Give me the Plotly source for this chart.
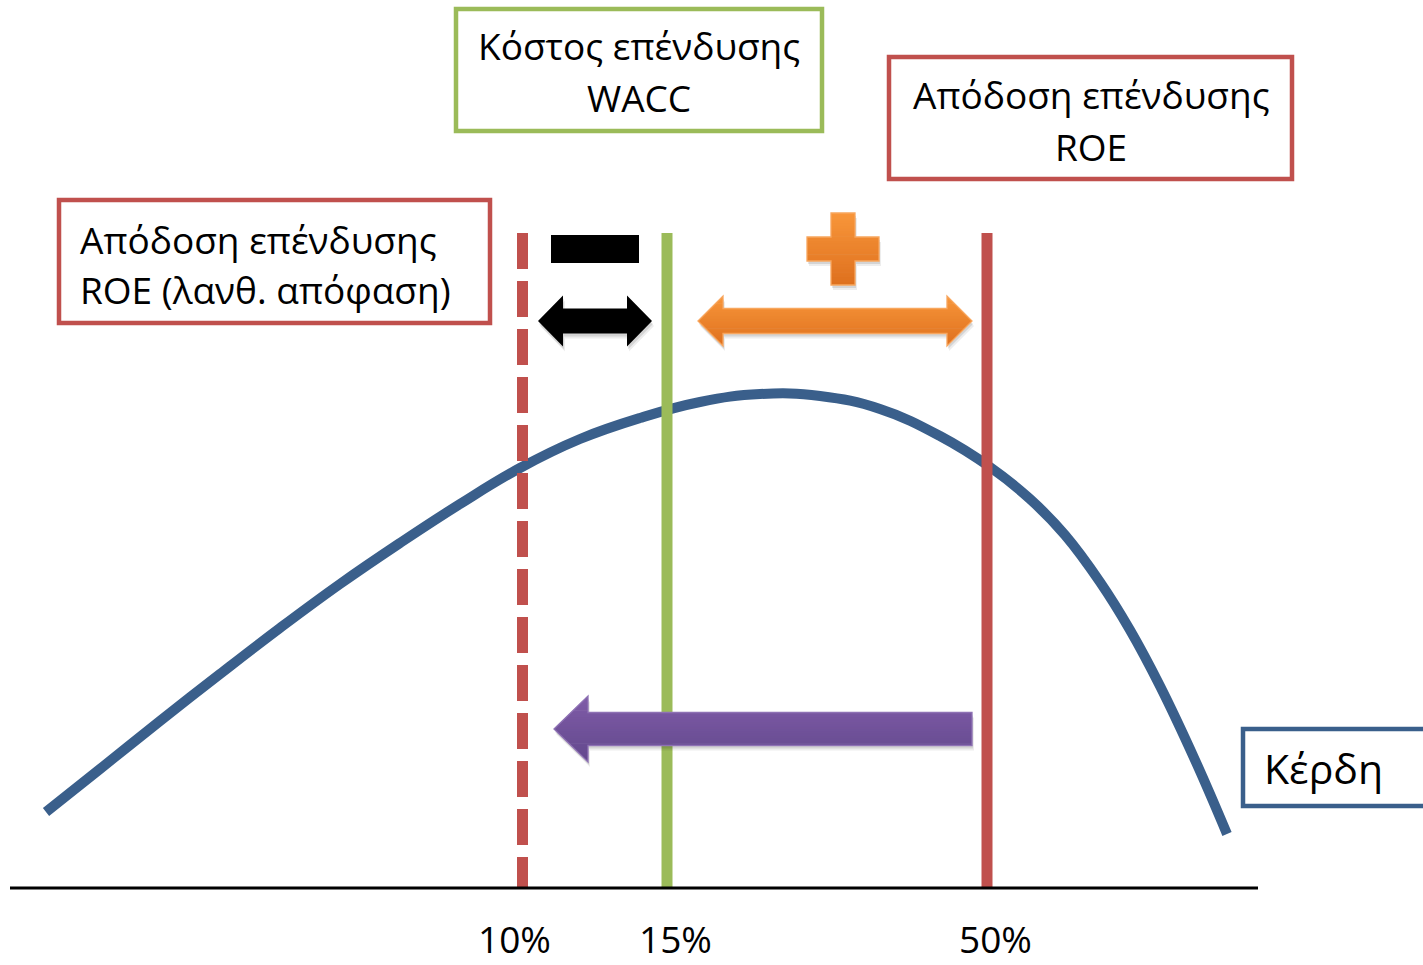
import plotly.graph_objects as go

# ---- data -------------------------------------------------------------
# Profit curve: position along the return scale, height above the baseline
curve_x = [46, 100, 160, 220, 280, 340, 400, 460, 520, 580, 640, 700, 760,
           820, 880, 940, 990, 1030, 1065, 1100, 1130, 1160, 1195, 1227]
curve_profit = [76, 119, 167, 214, 260, 304, 345, 384, 420, 449, 470, 486, 494,
                492, 479, 452, 421, 389, 353, 306, 258, 202, 128, 54]

# Return thresholds marked on the scale
threshold_labels = ["10%", "15%", "50%"]
threshold_x = [522.5, 667, 987]
threshold_label_shift = [-8, 8, 8]

curve_name = "Κέρδη"
box_wacc = ["Κόστος επένδυσης", "WACC"]
box_roe = ["Απόδοση επένδυσης", "ROE"]
box_roe_wrong = ["Απόδοση επένδυσης", "ROE (λανθ. απόφαση)"]

# ---- canvas geometry --------------------------------------------------
W, H = 1423, 965
BASE = 888          # screen row of the baseline
TOP = 233           # top of the threshold lines

RED = "#C0504D"
GREEN = "#9BBB59"
BLUE = "#3A5F8B"
FONT = "Open Sans"


def Y(row):
    """screen row -> data y (height above the baseline)"""
    return BASE - row


def path(points):
    return "M " + " L ".join(f"{x:.2f},{Y(y):.2f}" for x, y in points) + " Z"


def clip_band(poly, ya, yb):
    def clip(pts, keep, cross):
        out = []
        n = len(pts)
        for i in range(n):
            p, q = pts[i], pts[(i + 1) % n]
            kp, kq = keep(p), keep(q)
            if kp:
                out.append(p)
            if kp != kq:
                out.append(cross(p, q))
        return out

    def cross_at(yc):
        def f(p, q):
            t = (yc - p[1]) / (q[1] - p[1])
            return (p[0] + t * (q[0] - p[0]), yc)
        return f

    pts = clip(poly, lambda p: p[1] >= ya, cross_at(ya))
    if not pts:
        return []
    return clip(pts, lambda p: p[1] <= yb, cross_at(yb))


def lerp(c0, c1, t):
    return "rgb({},{},{})".format(*[round(a + (b - a) * t) for a, b in zip(c0, c1)])


def gradient_shapes(poly, c_top, c_bot, outline=None, strips=28):
    ys = [p[1] for p in poly]
    y0, y1 = min(ys), max(ys)
    h = (y1 - y0) / strips
    out = []
    # soft drop shadow
    for dx, dy, a in [(1, 3, 0.10), (2, 5, 0.07)]:
        out.append(dict(type="path", path=path([(x + dx, y + dy) for x, y in poly]),
                        fillcolor=f"rgba(0,0,0,{a})", line=dict(width=0), layer="above"))
    for i in range(strips):
        piece = clip_band(poly, y0 + i * h, y0 + (i + 1) * h + 0.7)
        if len(piece) >= 3:
            out.append(dict(type="path", path=path(piece),
                            fillcolor=lerp(c_top, c_bot, (i + 0.5) / strips),
                            line=dict(width=0), layer="above"))
    if outline:
        out.append(dict(type="path", path=path(poly), fillcolor="rgba(0,0,0,0)",
                        line=dict(color=outline, width=1.3), layer="above"))
    return out


def double_arrow(x_left, x_right, cy, head_len, head_half, shaft_half):
    return [(x_left, cy), (x_left + head_len, cy - head_half), (x_left + head_len, cy - shaft_half),
            (x_right - head_len, cy - shaft_half), (x_right - head_len, cy - head_half),
            (x_right, cy), (x_right - head_len, cy + head_half), (x_right - head_len, cy + shaft_half),
            (x_left + head_len, cy + shaft_half), (x_left + head_len, cy + head_half)]


def left_arrow(x_tip, x_end, cy, head_len, head_half, shaft_half):
    return [(x_tip, cy), (x_tip + head_len, cy - head_half), (x_tip + head_len, cy - shaft_half),
            (x_end, cy - shaft_half), (x_end, cy + shaft_half), (x_tip + head_len, cy + shaft_half),
            (x_tip + head_len, cy + head_half)]


def plus_sign(x0, x1, y0, y1, arm):
    cx, cy = (x0 + x1) / 2, (y0 + y1) / 2
    return [(cx - arm, y0), (cx + arm, y0), (cx + arm, cy - arm), (x1, cy - arm), (x1, cy + arm),
            (cx + arm, cy + arm), (cx + arm, y1), (cx - arm, y1), (cx - arm, cy + arm),
            (x0, cy + arm), (x0, cy - arm), (cx - arm, cy - arm)]


fig = go.Figure()

# profit curve
fig.add_trace(go.Scatter(x=curve_x, y=curve_profit, mode="lines",
                         line=dict(color=BLUE, width=10, shape="spline", smoothing=1.2),
                         hoverinfo="skip", showlegend=False))

# threshold lines: wrong-decision ROE (dashed), WACC, ROE
line_styles = [dict(color=RED, width=11, dash="36px,12px"),
               dict(color=GREEN, width=11),
               dict(color=RED, width=11)]
for xv, st in zip(threshold_x, line_styles):
    fig.add_trace(go.Scatter(x=[xv, xv], y=[Y(TOP), Y(BASE)], mode="lines", line=st,
                             hoverinfo="skip", showlegend=False))

shapes = []
# baseline
shapes.append(dict(type="line", x0=10, x1=1258, y0=Y(BASE), y1=Y(BASE),
                   line=dict(color="black", width=3), layer="above"))

# label boxes
for (x0, y0, x1, y1, col) in [(456, 9, 822, 131, GREEN), (889, 57, 1292, 179, RED),
                              (59, 200, 490, 323, RED), (1243, 729, 1440, 806, BLUE)]:
    shapes.append(dict(type="rect", x0=x0, x1=x1, y0=Y(y0), y1=Y(y1),
                       line=dict(color=col, width=4.5), fillcolor="white", layer="above"))

# minus sign and black double arrow
shapes.append(dict(type="rect", x0=551, x1=639, y0=Y(235), y1=Y(263),
                   fillcolor="black", line=dict(width=0), layer="above"))
shapes += gradient_shapes(double_arrow(538, 652, 321, 25, 25.5, 12.5), (0, 0, 0), (0, 0, 0), strips=1)

# plus sign and orange double arrow
ORANGE_TOP, ORANGE_BOT = (248, 150, 58), (222, 112, 30)
shapes += gradient_shapes(plus_sign(807, 879, 213, 285, 12), ORANGE_TOP, ORANGE_BOT, outline="#F8A65E")
shapes += gradient_shapes(double_arrow(698, 972, 321, 25, 25, 12.5), ORANGE_TOP, ORANGE_BOT, outline="#F8A65E")

# purple arrow pointing back to the lower return
shapes += gradient_shapes(left_arrow(554, 972, 729, 34, 33, 16.5), (128, 92, 168), (98, 72, 140),
                          outline="#8E72B4")

annotations = []
TXT = dict(family=FONT, size=37, color="black")


def text_line(x, row, s, anchor="center", font=TXT, xshift=0):
    annotations.append(dict(x=x, y=Y(row), xshift=xshift, text=s, showarrow=False, font=font,
                            xanchor=anchor, yanchor="middle"))


for s, row in zip(box_wacc, [45, 97.5]):
    text_line(639, row, s)
for s, row in zip(box_roe, [94, 146.5]):
    text_line(1091, row, s)
for s, row in zip(box_roe_wrong, [239, 289]):
    text_line(78, row, s, anchor="left")
text_line(1262, 768, curve_name, anchor="left", font=dict(family=FONT, size=41, color="black"))
for lab, xv, sh in zip(threshold_labels, threshold_x, threshold_label_shift):
    text_line(xv, 938, lab, font=dict(family=FONT, size=37, color="black"), xshift=sh)

fig.update_layout(
    width=W, height=H,
    margin=dict(l=0, r=0, t=0, b=0),
    paper_bgcolor="white", plot_bgcolor="white",
    xaxis=dict(range=[0, W], visible=False, fixedrange=True),
    yaxis=dict(range=[Y(H), Y(0)], visible=False, fixedrange=True),
    shapes=shapes, annotations=annotations,
    showlegend=False,
)

fig.write_html("out.html")
